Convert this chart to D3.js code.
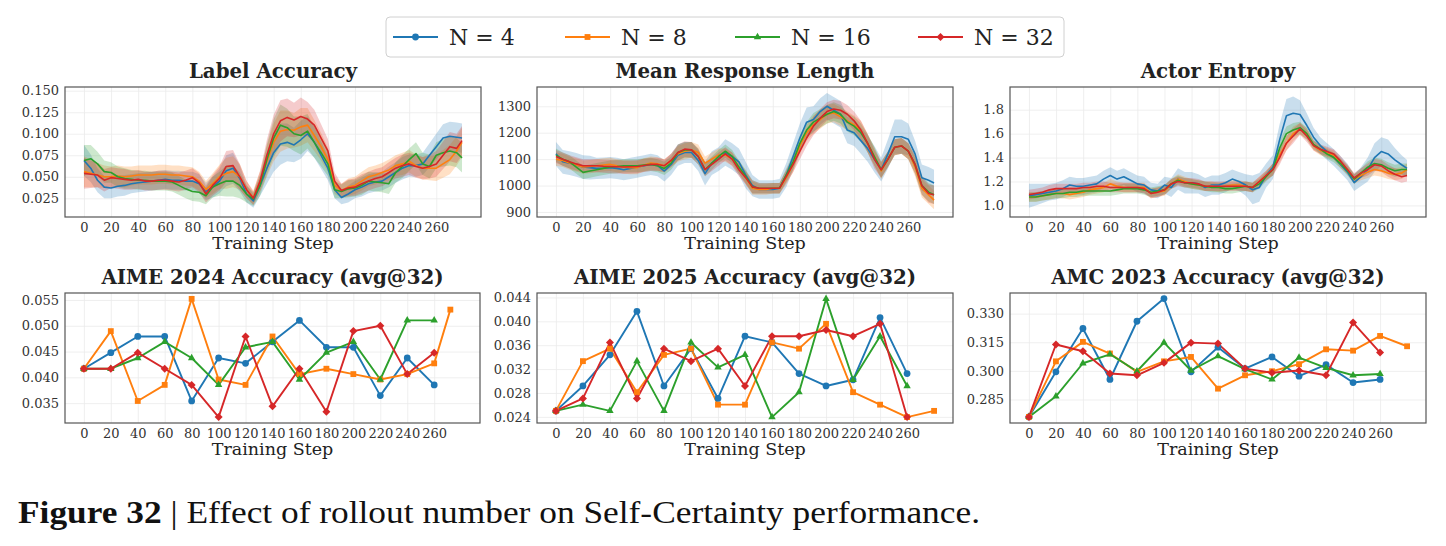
<!DOCTYPE html>
<html><head><meta charset="utf-8">
<script src="https://cdn.jsdelivr.net/npm/d3@7"></script>
<style>body{margin:0;background:#fff}svg{display:block}</style>
</head><body>
<svg id="chart" width="1446" height="546"></svg>
<script>
// ---------- DATA ----------
const seriesNames = ["N = 4", "N = 8", "N = 16", "N = 32"];
const xTickLabels = [0,20,40,60,80,100,120,140,160,180,200,220,240,260];

// training curves (smoothed), sampled every 5 steps
const topSteps = [0,5,10,15,20,25,30,35,40,45,50,55,60,65,70,75,80,85,90,95,100,105,110,115,120,125,130,135,140,145,150,155,160,165,170,175,180,185,190,195,200,205,210,215,220,225,230,235,240,245,250,255,260,265,270,275,279];

const labelAccN4 = [0.069,0.060,0.046,0.038,0.037,0.039,0.040,0.042,0.043,0.044,0.045,0.046,0.047,0.046,0.046,0.045,0.045,0.042,0.033,0.038,0.045,0.057,0.060,0.048,0.030,0.022,0.040,0.060,0.078,0.088,0.090,0.087,0.093,0.100,0.090,0.075,0.060,0.035,0.026,0.030,0.035,0.038,0.042,0.044,0.045,0.050,0.055,0.060,0.063,0.063,0.065,0.075,0.085,0.095,0.097,0.096,0.095];
const labelAccN8 = [0.056,0.054,0.052,0.050,0.050,0.051,0.050,0.051,0.052,0.052,0.052,0.053,0.053,0.052,0.052,0.051,0.050,0.045,0.035,0.042,0.050,0.054,0.056,0.050,0.035,0.026,0.045,0.068,0.090,0.103,0.105,0.104,0.108,0.110,0.098,0.085,0.070,0.040,0.034,0.038,0.040,0.045,0.050,0.052,0.055,0.058,0.063,0.065,0.068,0.063,0.060,0.060,0.060,0.065,0.070,0.080,0.090];
const labelAccN16 = [0.069,0.071,0.065,0.056,0.055,0.050,0.048,0.047,0.046,0.046,0.045,0.045,0.045,0.044,0.040,0.036,0.033,0.032,0.028,0.038,0.042,0.045,0.045,0.040,0.030,0.024,0.040,0.070,0.095,0.110,0.107,0.100,0.098,0.103,0.090,0.078,0.065,0.035,0.033,0.036,0.037,0.040,0.045,0.044,0.043,0.042,0.055,0.062,0.070,0.077,0.065,0.062,0.075,0.078,0.080,0.078,0.072];
const labelAccN32 = [0.054,0.053,0.052,0.046,0.049,0.048,0.047,0.046,0.047,0.045,0.045,0.046,0.046,0.045,0.044,0.046,0.049,0.043,0.030,0.040,0.048,0.062,0.063,0.050,0.035,0.025,0.045,0.075,0.100,0.115,0.119,0.116,0.120,0.117,0.110,0.095,0.080,0.045,0.034,0.037,0.038,0.042,0.045,0.048,0.050,0.055,0.060,0.063,0.065,0.062,0.060,0.062,0.065,0.075,0.085,0.083,0.092];
const labelAccSpread = [0.018,0.016,0.014,0.013,0.012,0.012,0.012,0.011,0.011,0.011,0.011,0.011,0.011,0.011,0.011,0.011,0.011,0.011,0.010,0.012,0.014,0.018,0.018,0.015,0.010,0.008,0.012,0.018,0.022,0.024,0.022,0.020,0.022,0.020,0.018,0.016,0.014,0.010,0.008,0.010,0.010,0.011,0.011,0.011,0.011,0.012,0.012,0.013,0.013,0.013,0.013,0.014,0.015,0.016,0.017,0.017,0.017];

const respLenN4 = [1120,1090,1085,1078,1070,1068,1065,1066,1068,1065,1060,1065,1070,1075,1080,1075,1055,1080,1115,1125,1125,1095,1045,1085,1100,1125,1110,1090,1040,1000,985,985,985,990,1040,1110,1180,1240,1250,1280,1300,1285,1270,1210,1200,1170,1140,1100,1060,1120,1185,1185,1175,1120,1030,1020,1010];
const respLenN8 = [1100,1095,1085,1078,1070,1072,1075,1078,1080,1075,1070,1068,1068,1078,1085,1082,1075,1095,1120,1130,1135,1125,1085,1100,1115,1115,1100,1070,1030,990,985,985,990,990,1030,1080,1150,1200,1230,1250,1270,1275,1260,1245,1230,1210,1160,1110,1055,1100,1145,1150,1130,1070,990,965,945];
const respLenN16 = [1115,1100,1090,1070,1050,1055,1060,1065,1070,1072,1075,1075,1075,1078,1080,1075,1065,1085,1125,1135,1135,1110,1060,1085,1110,1130,1110,1070,1035,995,990,990,990,990,1040,1090,1160,1210,1240,1255,1270,1280,1270,1240,1225,1200,1160,1110,1060,1100,1145,1150,1130,1080,1000,975,965];
const respLenN32 = [1110,1100,1090,1082,1075,1075,1075,1073,1072,1071,1070,1071,1072,1076,1080,1080,1075,1095,1125,1138,1135,1110,1060,1080,1100,1120,1100,1060,1030,995,990,990,990,990,1035,1080,1130,1180,1225,1255,1280,1290,1285,1270,1245,1210,1160,1100,1060,1100,1145,1150,1130,1080,1000,970,965];
const respLenSpread = [25,25,25,25,25,25,25,25,25,25,25,25,25,25,25,25,25,25,30,30,30,30,25,25,25,25,25,25,25,25,20,20,20,20,25,30,30,30,35,35,35,35,35,35,35,35,35,35,30,30,30,30,30,35,35,35,35];
const respLenSpreadN4 = [45,45,45,45,45,45,40,40,40,40,40,40,40,40,40,40,40,40,40,40,40,40,45,45,45,50,50,50,50,40,35,35,35,35,45,50,55,55,50,50,50,50,50,50,50,50,50,50,45,55,65,65,60,50,50,50,50];

const entropyN4 = [1.08,1.09,1.10,1.11,1.12,1.14,1.17,1.16,1.16,1.17,1.18,1.22,1.25,1.22,1.24,1.21,1.18,1.17,1.13,1.12,1.17,1.15,1.22,1.19,1.19,1.18,1.15,1.17,1.17,1.19,1.22,1.20,1.17,1.13,1.15,1.25,1.32,1.55,1.75,1.77,1.76,1.67,1.57,1.50,1.45,1.40,1.34,1.28,1.19,1.24,1.30,1.40,1.45,1.43,1.38,1.34,1.31];
const entropyN8 = [1.07,1.07,1.08,1.09,1.10,1.10,1.09,1.10,1.11,1.13,1.14,1.15,1.18,1.16,1.15,1.15,1.15,1.15,1.10,1.11,1.12,1.18,1.22,1.20,1.18,1.17,1.16,1.16,1.15,1.16,1.17,1.17,1.16,1.15,1.20,1.25,1.30,1.42,1.52,1.60,1.64,1.60,1.50,1.46,1.44,1.42,1.35,1.30,1.22,1.25,1.28,1.30,1.29,1.27,1.26,1.27,1.30];
const entropyN16 = [1.07,1.07,1.08,1.09,1.10,1.10,1.11,1.11,1.12,1.12,1.12,1.12,1.12,1.13,1.14,1.14,1.14,1.13,1.11,1.12,1.13,1.18,1.21,1.19,1.18,1.17,1.16,1.15,1.15,1.14,1.14,1.15,1.16,1.15,1.18,1.24,1.30,1.48,1.60,1.63,1.65,1.60,1.51,1.47,1.43,1.40,1.35,1.29,1.22,1.27,1.32,1.35,1.34,1.31,1.29,1.30,1.30];
const entropyN32 = [1.09,1.10,1.11,1.13,1.14,1.14,1.14,1.14,1.15,1.15,1.16,1.16,1.15,1.15,1.15,1.15,1.15,1.14,1.10,1.11,1.13,1.18,1.20,1.19,1.19,1.18,1.16,1.16,1.16,1.16,1.16,1.16,1.16,1.15,1.20,1.25,1.30,1.40,1.52,1.58,1.64,1.58,1.50,1.47,1.45,1.43,1.37,1.30,1.23,1.27,1.30,1.34,1.33,1.29,1.26,1.24,1.25];
const entropySpread = [0.04,0.04,0.04,0.04,0.04,0.04,0.04,0.04,0.04,0.04,0.04,0.04,0.04,0.04,0.04,0.04,0.04,0.04,0.04,0.04,0.04,0.04,0.04,0.04,0.04,0.04,0.04,0.04,0.04,0.04,0.04,0.04,0.04,0.04,0.04,0.04,0.05,0.06,0.06,0.06,0.05,0.05,0.04,0.04,0.04,0.04,0.04,0.04,0.04,0.04,0.05,0.05,0.05,0.05,0.05,0.05,0.05];
const entropySpreadN4 = [0.10,0.09,0.08,0.07,0.07,0.07,0.07,0.07,0.07,0.07,0.07,0.07,0.07,0.07,0.07,0.07,0.07,0.07,0.06,0.06,0.07,0.08,0.09,0.09,0.09,0.08,0.08,0.08,0.08,0.08,0.08,0.08,0.09,0.12,0.12,0.10,0.10,0.13,0.14,0.14,0.12,0.10,0.08,0.07,0.07,0.07,0.07,0.07,0.07,0.08,0.10,0.12,0.12,0.12,0.10,0.08,0.07];

// evaluation curves (avg@32), every 20 steps
const evalSteps = [0,20,40,60,80,100,120,140,160,180,200,220,240,260];
const aime24StepsN8 = [0,20,40,60,80,100,120,140,160,180,200,220,240,260,272];
const aime24N4 = [0.04167,0.04479,0.04792,0.04792,0.03542,0.04375,0.04271,0.04688,0.05104,0.04583,0.04583,0.03646,0.04375,0.03854];
const aime24N8 = [0.04167,0.04896,0.03542,0.03854,0.05521,0.03958,0.03854,0.04792,0.04063,0.04167,0.04063,0.03958,0.04063,0.04271,0.05313];
const aime24N16 = [0.04167,0.04167,0.04375,0.04688,0.04375,0.03854,0.04583,0.04688,0.03958,0.04479,0.04688,0.03958,0.05104,0.05104];
const aime24N32 = [0.04167,0.04167,0.04479,0.04167,0.03854,0.03229,0.04792,0.03438,0.04167,0.03333,0.04896,0.05000,0.04063,0.04479];

const aime25StepsN8 = [0,20,40,60,80,100,120,140,160,180,200,220,240,260,280];
const aime25N4 = [0.02500,0.02917,0.03438,0.04167,0.02917,0.03542,0.02708,0.03750,0.03646,0.03125,0.02917,0.03021,0.04063,0.03125];
const aime25N8 = [0.02500,0.03333,0.03542,0.02813,0.03438,0.03542,0.02604,0.02604,0.03646,0.03542,0.03958,0.02813,0.02604,0.02396,0.02500];
const aime25N16 = [0.02500,0.02604,0.02500,0.03333,0.02500,0.03646,0.03229,0.03438,0.02396,0.02813,0.04375,0.03021,0.03750,0.02917];
const aime25N32 = [0.02500,0.02708,0.03646,0.02708,0.03542,0.03333,0.03542,0.02917,0.03750,0.03750,0.03854,0.03750,0.03958,0.02396];

const amc23StepsN8 = [0,20,40,60,80,100,120,140,160,180,200,220,240,260,280];
const amc23N4 = [0.2759,0.2995,0.3222,0.2955,0.3260,0.3379,0.2995,0.3124,0.3012,0.3073,0.2972,0.3033,0.2939,0.2955];
const amc23N8 = [0.2759,0.3050,0.3152,0.3091,0.2995,0.3050,0.3073,0.2907,0.2977,0.2998,0.3035,0.3113,0.3106,0.3183,0.3129];
const amc23N16 = [0.2759,0.2867,0.3040,0.3087,0.2998,0.3148,0.3002,0.3077,0.3009,0.2955,0.3070,0.3016,0.2977,0.2984];
const amc23N32 = [0.2759,0.3138,0.3103,0.2986,0.2977,0.3042,0.3148,0.3143,0.3012,0.2990,0.3002,0.2977,0.3253,0.3096];

const labelAccTicks = [0.025,0.050,0.075,0.100,0.125,0.150];
const respLenTicks = [900,1000,1100,1200,1300];
const entropyTicks = [1.0,1.2,1.4,1.6,1.8];
const aime24Ticks = [0.035,0.040,0.045,0.050,0.055];
const aime25Ticks = [0.024,0.028,0.032,0.036,0.040,0.044];
const amc23Ticks = [0.285,0.300,0.315,0.330];

// ---------- STYLE ----------
const colors = ["#1f77b4","#ff7f0e","#2ca02c","#d62728"];
const serif = "'DejaVu Serif', serif";
const svg = d3.select("#chart");

const symbolFor = [d3.symbolCircle, d3.symbolSquare, d3.symbolTriangle, d3.symbolSquare];
const symbolSize = [36, 34, 24, 32];
const symbolRot = [0, 0, 0, 45];

const panels = [
  {title:"Label Accuracy", x0:65, x1:481, y0:87, y1:217, xdom:[-14,293], ydom:[0.0033,0.1543], ticks:labelAccTicks, fmt:d3.format(".3f"),
   kind:"band", steps:[topSteps,topSteps,topSteps,topSteps], vals:[labelAccN4,labelAccN8,labelAccN16,labelAccN32], spread:[labelAccSpread,labelAccSpread,labelAccSpread,labelAccSpread]},
  {title:"Mean Response Length", x0:537, x1:953, y0:87, y1:217, xdom:[-14,293], ydom:[881,1373], ticks:respLenTicks, fmt:d3.format("d"),
   kind:"band", steps:[topSteps,topSteps,topSteps,topSteps], vals:[respLenN4,respLenN8,respLenN16,respLenN32], spread:[respLenSpreadN4,respLenSpread,respLenSpread,respLenSpread]},
  {title:"Actor Entropy", x0:1010, x1:1426, y0:87, y1:217, xdom:[-14,293], ydom:[0.903,1.99], ticks:entropyTicks, fmt:d3.format(".1f"),
   kind:"band", steps:[topSteps,topSteps,topSteps,topSteps], vals:[entropyN4,entropyN8,entropyN16,entropyN32], spread:[entropySpreadN4,entropySpread,entropySpread,entropySpread]},
  {title:"AIME 2024 Accuracy (avg@32)", x0:65, x1:480, y0:293, y1:423, xdom:[-14,294], ydom:[0.03115,0.05635], ticks:aime24Ticks, fmt:d3.format(".3f"),
   kind:"marker", steps:[evalSteps,aime24StepsN8,evalSteps,evalSteps], vals:[aime24N4,aime24N8,aime24N16,aime24N32]},
  {title:"AIME 2025 Accuracy (avg@32)", x0:537, x1:953, y0:293, y1:423, xdom:[-14,294], ydom:[0.02297,0.04474], ticks:aime25Ticks, fmt:d3.format(".3f"),
   kind:"marker", steps:[evalSteps,aime25StepsN8,evalSteps,evalSteps], vals:[aime25N4,aime25N8,aime25N16,aime25N32]},
  {title:"AMC 2023 Accuracy (avg@32)", x0:1010, x1:1426, y0:293, y1:423, xdom:[-14,294], ydom:[0.2727,0.3408], ticks:amc23Ticks, fmt:d3.format(".3f"),
   kind:"marker", steps:[evalSteps,amc23StepsN8,evalSteps,evalSteps], vals:[amc23N4,amc23N8,amc23N16,amc23N32]}
];

panels.forEach((p, pi) => {
  const g = svg.append("g");
  const x = d3.scaleLinear().domain(p.xdom).range([p.x0, p.x1]);
  const y = d3.scaleLinear().domain(p.ydom).range([p.y1, p.y0]);
  const w = p.x1 - p.x0, h = p.y1 - p.y0;

  // grid
  g.append("g").attr("transform", `translate(0,${p.y1})`)
    .call(d3.axisBottom(x).tickValues(xTickLabels).tickSize(-h).tickFormat(""))
    .call(s => { s.select(".domain").remove(); s.selectAll("line").attr("stroke","#ebebeb").attr("stroke-width",0.8); });
  g.append("g").attr("transform", `translate(${p.x0},0)`)
    .call(d3.axisLeft(y).tickValues(p.ticks).tickSize(-w).tickFormat(""))
    .call(s => { s.select(".domain").remove(); s.selectAll("line").attr("stroke","#ebebeb").attr("stroke-width",0.8); });

  const clipId = "clip" + pi;
  svg.append("clipPath").attr("id", clipId).append("rect").attr("x", p.x0).attr("y", p.y0).attr("width", w).attr("height", h);
  const plot = g.append("g").attr("clip-path", `url(#${clipId})`);

  for (let si = 0; si < 4; si++) {
    const st = p.steps[si], v = p.vals[si];
    const pts = st.map((s, i) => ({s, v: v[i], e: p.spread ? p.spread[si][i] : 0}));
    if (p.kind === "band") {
      plot.append("path").datum(pts)
        .attr("d", d3.area().x(d => x(d.s)).y0(d => y(d.v - d.e)).y1(d => y(d.v + d.e)))
        .attr("fill", colors[si]).attr("fill-opacity", 0.24).attr("stroke", "none");
    }
  }
  for (let si = 0; si < 4; si++) {
    const st = p.steps[si], v = p.vals[si];
    const pts = st.map((s, i) => ({s, v: v[i]}));
    plot.append("path").datum(pts)
      .attr("d", d3.line().x(d => x(d.s)).y(d => y(d.v)))
      .attr("fill", "none").attr("stroke", colors[si])
      .attr("stroke-width", p.kind === "band" ? 1.6 : 1.9).attr("stroke-linejoin", "round");
    if (p.kind === "marker") {
      const sym = d3.symbol().type(symbolFor[si]).size(symbolSize[si]);
      g.append("g").selectAll("path").data(pts).join("path")
        .attr("transform", d => `translate(${x(d.s)},${y(d.v)}) rotate(${symbolRot[si]})`)
        .attr("d", sym).attr("fill", colors[si]);
    }
  }

  // frame
  g.append("rect").attr("x", p.x0).attr("y", p.y0).attr("width", w).attr("height", h)
    .attr("fill", "none").attr("stroke", "#555").attr("stroke-width", 1.2);

  // axes labels
  const xa = g.append("g").attr("transform", `translate(0,${p.y1})`)
    .call(d3.axisBottom(x).tickValues(xTickLabels).tickSize(0).tickPadding(6).tickFormat(d3.format("d")));
  xa.select(".domain").remove();
  xa.selectAll("text").attr("font-family", serif).attr("font-size", 13).attr("fill", "#333");
  const ya = g.append("g").attr("transform", `translate(${p.x0},0)`)
    .call(d3.axisLeft(y).tickValues(p.ticks).tickSize(0).tickPadding(6).tickFormat(p.fmt));
  ya.select(".domain").remove();
  ya.selectAll("text").attr("font-family", serif).attr("font-size", 13).attr("fill", "#333");

  g.append("text").attr("x", (p.x0 + p.x1) / 2).attr("y", p.y0 - 9)
    .attr("text-anchor", "middle").attr("font-family", serif).attr("font-weight", "bold")
    .attr("font-size", 19.8).attr("fill", "#222").text(p.title);
  g.append("text").attr("x", (p.x0 + p.x1) / 2).attr("y", p.y1 + 32)
    .attr("text-anchor", "middle").attr("font-family", serif)
    .attr("font-size", 17.5).attr("fill", "#222").text("Training Step");
});

// legend
const lg = svg.append("g");
lg.append("rect").attr("x", 386).attr("y", 17).attr("width", 678).attr("height", 40).attr("rx", 4)
  .attr("fill", "#fff").attr("stroke", "#d0d0d0").attr("stroke-width", 1);
const legendX = [393, 565, 735, 918];
seriesNames.forEach((name, i) => {
  const lx = legendX[i], ly = 37;
  lg.append("line").attr("x1", lx).attr("x2", lx + 45).attr("y1", ly).attr("y2", ly)
    .attr("stroke", colors[i]).attr("stroke-width", 1.9);
  lg.append("path").attr("d", d3.symbol().type(symbolFor[i]).size(symbolSize[i])())
    .attr("transform", `translate(${lx + 22.5},${ly}) rotate(${symbolRot[i]})`).attr("fill", colors[i]);
  lg.append("text").attr("x", lx + 56).attr("y", ly).attr("dy", "0.36em")
    .attr("font-family", serif).attr("font-size", 22).attr("fill", "#222").text(name);
});

// caption
const cap = svg.append("text").attr("x", 18).attr("y", 523)
  .attr("font-family", "'Liberation Serif', serif").attr("font-size", 31).attr("fill", "#111");
cap.append("tspan").attr("font-weight", "bold").text("Figure 32");
cap.append("tspan").text(" | Effect of rollout number on Self-Certainty performance.");
cap.attr("textLength", 962).attr("lengthAdjust", "spacingAndGlyphs");
</script>
</body></html>
